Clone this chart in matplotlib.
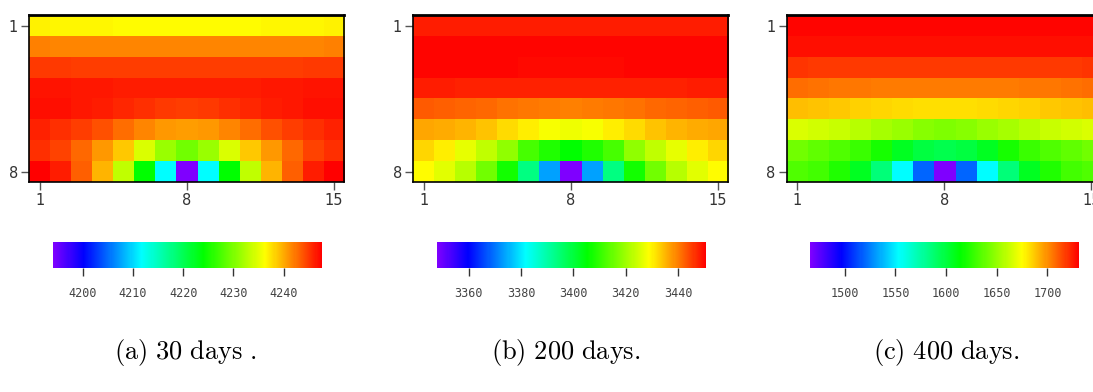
import numpy as np
import matplotlib
matplotlib.use("Agg")
import matplotlib.pyplot as plt
from matplotlib.colors import LinearSegmentedColormap, Normalize
from matplotlib.colorbar import ColorbarBase

plt.rcParams["mathtext.fontset"] = "cm"

# half rows (columns 1..8), mirrored to 15 columns
half_a = [
    [4236.8, 4236.7, 4236.6, 4236.6, 4236.5, 4236.5, 4236.4, 4236.4],
    [4241.8, 4241.7, 4241.7, 4241.6, 4241.6, 4241.6, 4241.6, 4241.6],
    [4244.9, 4244.9, 4244.8, 4244.8, 4244.8, 4244.8, 4244.8, 4244.8],
    [4246.7, 4246.6, 4246.5, 4246.4, 4246.3, 4246.2, 4246.2, 4246.2],
    [4246.9, 4246.9, 4246.5, 4246.2, 4245.8, 4245.3, 4245.0, 4244.8],
    [4246.0, 4245.5, 4244.8, 4243.9, 4242.6, 4241.6, 4240.8, 4240.5],
    [4245.5, 4244.6, 4242.9, 4240.7, 4238.6, 4234.5, 4231.4, 4229.4],
    [4247.6, 4246.2, 4243.3, 4239.5, 4233.3, 4224.0, 4211.7, 4194.0],
]
half_b = [
    [3447.9, 3447.9, 3447.9, 3447.9, 3447.9, 3447.9, 3447.9, 3447.9],
    [3449.9, 3449.9, 3449.9, 3449.9, 3449.9, 3449.9, 3449.9, 3449.9],
    [3449.9, 3449.9, 3449.9, 3449.8, 3449.8, 3449.7, 3449.7, 3449.7],
    [3447.9, 3447.8, 3447.7, 3447.6, 3447.6, 3447.6, 3447.6, 3447.6],
    [3442.8, 3442.2, 3441.8, 3441.4, 3440.8, 3440.4, 3439.8, 3439.4],
    [3436.4, 3436.0, 3435.1, 3433.8, 3432.0, 3430.5, 3428.3, 3427.6],
    [3432.3, 3430.3, 3426.9, 3423.1, 3418.6, 3412.0, 3408.4, 3405.4],
    [3429.0, 3426.2, 3422.4, 3415.8, 3406.9, 3393.6, 3373.6, 3347.9],
]
half_c = [
    [1729.6, 1729.6, 1729.6, 1729.6, 1729.6, 1729.6, 1729.6, 1729.6],
    [1727.9, 1727.9, 1727.9, 1727.9, 1727.9, 1727.9, 1727.9, 1727.9],
    [1719.0, 1718.3, 1718.2, 1718.1, 1718.0, 1718.0, 1718.0, 1718.0],
    [1706.8, 1706.0, 1705.3, 1704.8, 1704.3, 1704.0, 1703.8, 1703.8],
    [1689.4, 1688.0, 1686.8, 1685.3, 1684.0, 1683.0, 1682.4, 1682.2],
    [1666.3, 1664.3, 1662.3, 1658.4, 1653.5, 1650.5, 1646.8, 1645.0],
    [1641.3, 1637.6, 1633.6, 1627.8, 1620.0, 1606.8, 1599.1, 1595.5],
    [1633.4, 1629.7, 1622.0, 1606.8, 1585.7, 1553.3, 1519.5, 1465.7],
]

ranges = [(4194.0, 4247.6), (3347.9, 3450.6), (1465.7, 1731.3)]
cb_ticks = [[4200, 4210, 4220, 4230, 4240],
            [3360, 3380, 3400, 3420, 3440],
            [1500, 1550, 1600, 1650, 1700]]
captions = [r"$\mathrm{(a)\ 30\ days\ .}$",
            r"$\mathrm{(b)\ 200\ days.}$",
            r"$\mathrm{(c)\ 400\ days.}$"]

cmap = LinearSegmentedColormap.from_list("rb", [
    (0.0, (0.5, 0.0, 1.0)),
    (0.114, (0.0, 0.0, 1.0)),
    (0.33, (0.0, 1.0, 1.0)),
    (0.56, (0.0, 1.0, 0.0)),
    (0.79, (1.0, 1.0, 0.0)),
    (1.0, (1.0, 0.0, 0.0)),
])

def mirror(half):
    h = np.array(half)
    return np.hstack([h, h[:, -2::-1]])

fig = plt.figure(figsize=(10.93, 3.92), dpi=100)

heat_left = [0.0268, 0.3781, 0.7198]
cb_left = [0.0482, 0.3998, 0.7411]
cap_x = [0.1697, 0.518, 0.866]

for i, half in enumerate([half_a, half_b, half_c]):
    data = mirror(half)
    vmin, vmax = ranges[i]
    ax = fig.add_axes([heat_left[i], 0.5357, 0.2882, 0.4253])
    ax.imshow(data, cmap=cmap, vmin=vmin, vmax=vmax, aspect="auto",
              interpolation="nearest", extent=(0.5, 15.5, 8.5, 0.5))
    ax.set_xticks([1, 8, 15])
    ax.set_yticks([1, 8])
    ax.tick_params(length=6, width=1, color="#555555", labelsize=10.5,
                   labelcolor="#333333", pad=2)
    for s in ax.spines.values():
        s.set_linewidth(1.2)
    ax.spines["top"].set_linewidth(2)

    cax = fig.add_axes([cb_left[i], 0.317, 0.2462, 0.0648])
    cb = ColorbarBase(cax, cmap=cmap, norm=Normalize(vmin, vmax),
                      orientation="horizontal", ticks=cb_ticks[i])
    cb.outline.set_visible(False)
    cax.tick_params(length=6, width=1, color="#333333", pad=8,
                    labelsize=8.5, labelcolor="#444444")
    for lab in cax.get_xticklabels():
        lab.set_fontfamily("DejaVu Sans Mono")

    fig.text(cap_x[i], 0.102, captions[i], ha="center", va="center",
             fontsize=19)

fig.savefig("out.png", dpi=100)
